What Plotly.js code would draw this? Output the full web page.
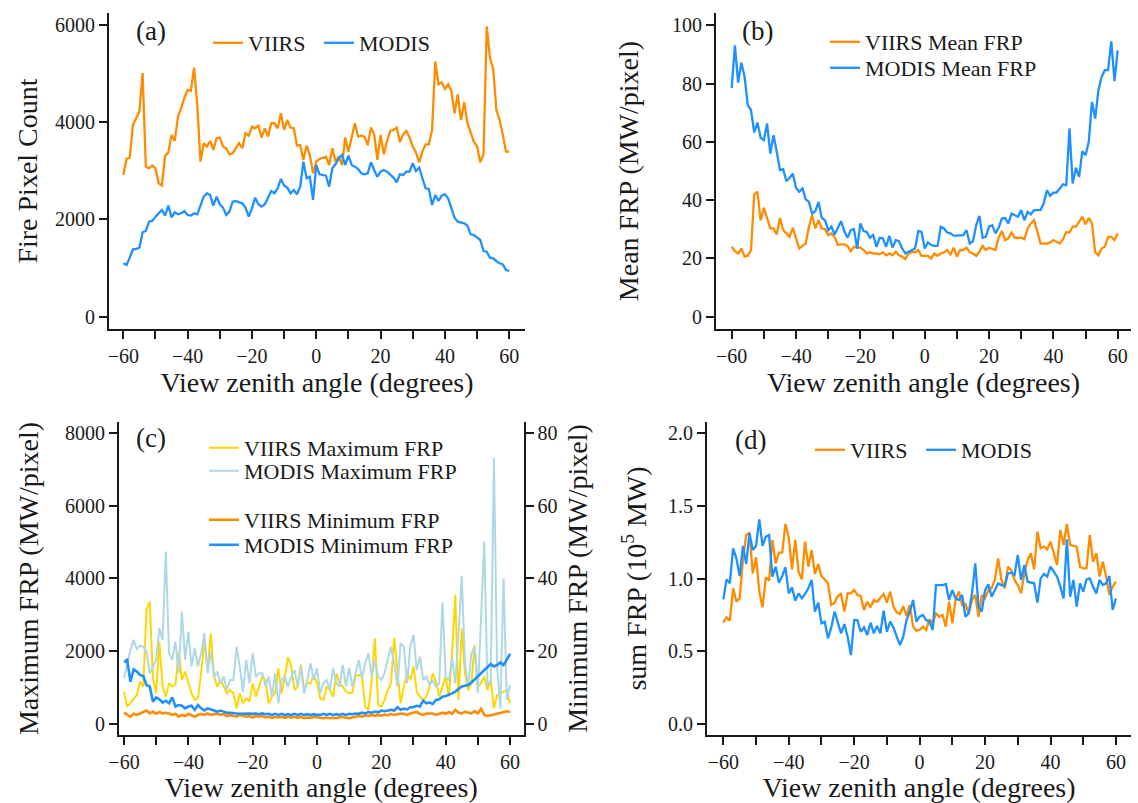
<!DOCTYPE html>
<html><head><meta charset="utf-8">
<script src="https://cdn.plot.ly/plotly-3.0.1.min.js"></script>
<style>html,body{margin:0;padding:0;background:#fff;} #chart{width:1138px;height:803px;}</style>
</head><body><div id="chart"></div>
<script>
const angles = [-60,-59,-58,-57,-56,-55,-54,-53,-52,-51,-50,-49,-48,-47,-46,-45,-44,-43,-42,-41,-40,-39,-38,-37,-36,-35,-34,-33,-32,-31,-30,-29,-28,-27,-26,-25,-24,-23,-22,-21,-20,-19,-18,-17,-16,-15,-14,-13,-12,-11,-10,-9,-8,-7,-6,-5,-4,-3,-2,-1,0,1,2,3,4,5,6,7,8,9,10,11,12,13,14,15,16,17,18,19,20,21,22,23,24,25,26,27,28,29,30,31,32,33,34,35,36,37,38,39,40,41,42,43,44,45,46,47,48,49,50,51,52,53,54,55,56,57,58,59,60];

// (a) fire pixel count
const viirsCount = [2915,3245,3270,3945,4080,4220,5010,3090,3050,3110,3050,2745,2700,3310,3380,3740,3615,4115,4290,4505,4665,4645,5125,4355,3190,3570,3500,3615,3430,3670,3685,3500,3465,3340,3360,3465,3570,3465,3775,3725,3910,3875,3930,3685,3875,3705,3980,3980,3875,4185,3840,4045,3890,3875,3520,
3530,3225,3520,3325,2950,3190,3245,3260,3290,3120,3465,3190,3290,3120,3685,3395,3670,3980,3705,3725,3705,3530,3890,3750,3225,3740,3340,3615,3820,3840,3890,3590,3750,3820,3685,3500,3380,3175,3395,3545,3545,3840,5250,4780,4820,4685,4780,4645,4185,4575,4045,4410,3980,3805,3600,3500,3175,3340,5970,5330,5100,4255,4045,3740,3395,3395];
const modisCount = [1098,1063,1214,1386,1393,1420,1736,1763,1955,1969,2058,2127,2195,2079,2284,2044,2147,2106,2127,2175,2092,2079,2127,2106,2298,2470,2538,2504,2284,2470,2312,2243,2092,2161,2367,2380,2353,2332,2243,2058,2230,2449,2312,2264,2312,2449,2586,2538,2641,2833,2696,2655,2538,2607,2518,
2675,3190,2847,2881,2401,3121,2929,2916,2902,2675,3053,3135,3259,3327,3121,3313,3121,3087,3039,2950,2929,2950,3176,3018,2881,2984,3018,2984,2929,2861,2765,2929,2916,2984,2984,3156,2998,3066,2847,2641,2627,2298,2504,2380,2490,2518,2435,2230,2037,1955,1941,1921,1873,1694,1681,1626,1578,1351,1338,1214,1200,1146,1098,1077,960,940];

// (b) mean FRP
const viirsMean = [24.0,22.5,21.7,23.4,20.6,20.9,22.9,41.9,42.9,33.1,37.4,33.7,30.3,30.3,28.2,33.9,29.7,28.6,27.4,30.5,26.6,23.4,24.3,25.1,30.9,34.9,30.3,33.1,30.3,30.1,28.0,28.6,27.4,24.6,24.8,24.8,24.3,22.5,24.0,23.7,23.7,22.9,21.7,22.1,21.7,21.7,21.4,22.1,21.1,21.7,21.1,22.3,21.1,
20.6,19.8,21.7,22.3,22.1,22.9,20.9,20.9,20.9,20.0,21.7,20.9,21.7,22.1,22.9,21.4,23.7,20.6,22.9,22.9,23.7,22.1,21.7,20.9,22.3,24.3,22.9,23.7,23.4,22.9,27.1,29.4,26.3,26.9,28.9,27.1,27.1,27.1,26.6,30.3,32.0,33.1,29.4,25.1,25.1,25.1,25.5,26.3,25.7,25.1,26.6,29.1,28.9,30.9,30.9,32.6,34.3,31.7,33.9,32.0,22.1,21.1,23.4,24.0,27.4,27.4,26.3,28.6];
const modisMean = [78.5,93.1,80.3,87.2,82.3,72.6,70.9,63.2,66.6,61.4,60.6,66.3,56.0,62.3,56.6,50.3,50.6,46.5,47.7,49.1,44.2,42.9,44.0,40.3,39.4,35.4,36.2,39.4,33.9,33.1,29.7,30.9,28.2,30.3,32.8,29.4,27.1,29.7,30.1,23.4,32.0,29.4,29.1,27.1,28.0,24.0,27.1,26.9,24.0,27.8,23.7,26.3,25.9,
23.4,21.7,22.3,22.9,23.4,29.4,29.1,23.4,25.5,24.6,24.3,24.3,30.9,30.3,28.9,28.6,27.8,27.8,27.8,28.0,29.7,25.1,25.9,31.4,34.6,27.1,27.4,30.9,31.4,28.6,30.5,33.7,33.9,32.0,35.4,34.9,34.3,36.6,33.1,36.0,35.1,36.6,36.6,36.6,38.9,43.4,41.5,42.6,42.6,44.0,45.4,45.1,64.6,45.7,51.1,48.0,56.8,55.4,60.0,73.7,68.0,77.7,82.3,84.6,84.6,94.5,80.8,91.4];

// (c) maximum FRP (left axis) and minimum FRP (right axis)
const viirsMax = [890,477,587,706,798,1165,1027,3136,3365,1256,844,2265,1027,752,1119,1027,1073,1990,1210,1440,1119,844,660,706,1440,2265,1486,2494,1302,1027,1210,1027,844,935,844,431,844,569,706,614,1119,752,1027,1302,1210,569,752,844,1531,844,1302,1834,1577,935,1027,1623,935,1119,1119,1348,
1119,706,660,1027,935,752,1394,1119,1027,890,844,862,1302,1348,1302,477,385,1210,2357,523,477,660,935,1119,2357,1486,569,1027,1394,1210,1577,890,752,660,752,1027,1394,1165,752,1027,1302,752,1944,3549,660,2632,1394,935,1119,2173,1027,1119,1302,935,1210,431,798,844,890,935,569];
const modisMax = [1256,1669,2036,2311,2054,2146,2127,1990,1394,1577,1760,2632,2311,4741,1944,1760,2265,1394,3090,1760,2540,1577,2082,1577,1944,2494,1394,1990,1302,1440,1119,1302,935,1210,1210,2127,1577,890,1760,1119,1944,1302,1394,1394,1027,1302,752,1394,569,1210,1302,1027,1302,1486,1027,1577,844,1210,1669,1210,
1531,844,1119,1210,935,1531,1119,1027,1623,1027,1531,1027,1394,1760,1256,1669,1944,1302,1760,1302,1210,1394,1760,2127,1669,1027,2219,2127,1119,2127,2448,1486,1852,1210,1302,1073,1210,1027,1119,3338,1302,1210,1807,1119,2494,4071,1669,1027,1944,2127,844,2769,5016,1027,1210,7308,1577,431,4007,660,1073];
const viirsMin = [3.1,2.5,2.0,2.8,2.5,2.9,3.4,3.7,2.9,3.4,2.8,3.3,2.9,3.1,2.9,2.5,2.8,2.0,2.5,2.2,2.8,2.5,2.0,2.5,2.8,2.5,2.9,2.5,2.8,2.9,2.5,2.8,2.2,2.5,2.2,2.0,2.5,2.2,2.0,2.2,1.8,2.2,2.0,2.2,1.8,2.0,1.7,2.0,1.8,2.0,1.7,2.0,1.8,2.0,1.7,2.0,1.6,1.8,1.7,2.0,1.8,
1.7,1.6,1.8,1.6,1.7,1.6,1.8,2.0,1.7,1.6,1.8,2.0,2.2,2.0,2.4,2.2,2.5,2.2,2.5,2.3,2.6,2.4,2.8,2.5,2.7,2.9,2.8,2.5,2.9,3.1,3.3,2.8,2.5,2.9,2.8,2.9,2.5,2.9,3.1,2.8,3.3,2.8,3.9,3.1,2.9,3.4,3.1,2.9,3.5,2.9,4.2,2.5,2.2,2.5,2.6,2.8,3.1,3.4,3.5,3.3];
const modisMin = [17.1,17.6,11.6,15.0,14.4,13.5,13.2,10.7,10.3,6.1,7.3,6.8,5.9,6.4,5.7,7.3,4.8,5.2,5.0,4.3,4.8,5.0,3.9,5.2,4.3,3.7,4.3,3.9,3.7,3.4,3.7,3.4,3.1,3.1,2.9,2.9,2.8,2.9,2.8,2.9,2.8,2.9,2.7,2.9,2.7,2.8,2.5,2.8,2.5,2.8,2.5,2.7,2.5,2.8,2.5,2.8,2.5,2.7,2.5,2.7,2.5,
2.5,2.8,2.5,2.8,2.5,2.7,2.5,2.8,2.5,2.8,2.7,2.9,2.8,3.1,2.9,3.3,3.1,3.4,3.2,3.7,3.5,3.7,3.9,3.7,4.6,3.9,4.2,4.0,4.6,4.6,5.0,4.8,6.4,5.7,5.9,5.5,6.6,6.8,7.5,7.7,8.0,8.4,8.9,9.5,10.3,10.5,10.7,11.4,12.3,13.0,13.9,14.7,15.6,16.5,15.8,16.2,16.9,16.2,17.6,19.3];

// (d) sum FRP (10^5 MW)
const viirsSum = [0.697,0.734,0.711,0.933,0.841,0.864,1.127,1.298,1.314,1.035,1.145,0.910,0.802,1.008,0.985,1.264,1.104,1.177,1.177,1.374,1.282,1.063,1.264,1.047,0.994,1.253,1.081,1.195,1.031,1.099,1.017,0.990,0.967,0.818,0.834,0.880,0.894,0.773,0.898,0.898,0.921,0.887,0.880,0.784,0.841,0.802,0.853,0.841,0.864,0.894,0.834,0.910,0.807,0.766,0.757,0.811,0.743,0.818,0.670,0.642,
0.647,0.670,0.647,0.720,0.693,0.761,0.738,0.750,0.670,0.841,0.693,0.853,0.910,0.818,0.825,0.761,0.853,0.887,0.738,0.887,0.864,0.921,0.933,0.990,1.138,0.990,0.933,1.081,1.058,0.990,0.955,0.898,1.035,1.127,1.173,1.063,1.321,1.207,1.218,1.200,1.253,1.177,1.093,1.333,1.230,1.374,1.230,1.223,1.218,1.081,1.070,1.070,1.298,1.115,1.173,1.013,1.115,1.013,0.887,0.944,0.978];
const modisSum = [0.857,0.994,0.967,1.207,1.138,1.017,1.223,1.099,1.310,1.195,1.223,1.406,1.223,1.287,1.298,1.013,1.081,0.971,1.017,1.077,0.898,0.939,0.848,0.898,0.864,0.894,0.933,0.990,0.773,0.834,0.693,0.704,0.590,0.665,0.773,0.693,0.624,0.688,0.601,0.475,0.715,0.715,0.635,0.665,0.613,0.697,0.624,0.674,0.624,0.779,0.635,0.704,0.665,0.601,0.544,
0.601,0.715,0.773,0.853,0.704,0.738,0.750,0.715,0.704,0.647,0.955,0.955,0.955,0.962,0.853,0.921,0.864,0.853,0.887,0.738,0.761,0.898,1.104,0.807,0.773,0.921,0.960,0.875,0.921,0.967,0.955,0.949,1.035,1.040,1.024,1.161,0.990,1.093,0.978,0.971,0.967,0.834,1.001,1.031,1.013,1.081,1.047,1.013,0.944,0.864,1.269,0.875,0.990,0.807,0.967,0.910,0.994,1.001,0.944,0.898,0.990,0.955,0.967,1.017,0.784,0.864];

// tick labels
const xTickVals = [-60,-50,-40,-30,-20,-10,0,10,20,30,40,50,60];
const xTickText = ['\u221260','','\u221240','','\u221220','','0','','20','','40','','60'];
const countTicks = [0,2000,4000,6000];
const meanTicks = [0,20,40,60,80,100];
const maxTicks = [0,2000,4000,6000,8000];
const minTicks = [0,20,40,60,80];
const sumTicks = [0,0.5,1.0,1.5,2.0];
const sumTickText = ['0.0','0.5','1.0','1.5','2.0'];

const FONT = 'Liberation Serif, Times New Roman, serif';
const INK = '#1a1a1a';
const ORANGE = '#FF8C00', BLUE = '#1E90FF', GOLD = '#FFD700', LIGHTBLUE = '#ADD8E6';
const W = 1138, H = 803;
const px = v => v / W;
const py = v => 1 - v / H;
const TITLE_SIZE = 28;

const base = {
  showgrid: false, zeroline: false, showline: true, linewidth: 2, linecolor: INK,
  tickwidth: 1.5, tickcolor: INK, tickfont: {family: FONT, size: 20, color: INK}, fixedrange: true
};
function xMain(dom, range, anchor) {
  return Object.assign({}, base, {
    domain: dom, range: range, anchor: anchor, tickmode: 'array', tickvals: xTickVals, ticktext: xTickText,
    ticks: 'outside', ticklen: 8,
    title: {text: 'View zenith angle (degrees)', font: {family: FONT, size: TITLE_SIZE, color: INK}, standoff: 5}
  });
}
function xTop(over, range, anchor) {
  return Object.assign({}, base, {
    overlaying: over, side: 'top', anchor: anchor, range: range, tickmode: 'array', tickvals: xTickVals,
    ticks: 'inside', ticklen: 7, showticklabels: false
  });
}
function yMain(dom, range, anchor, vals, text, title, standoff) {
  return Object.assign({}, base, {
    domain: dom, range: range, anchor: anchor, tickmode: 'array', tickvals: vals, ticktext: text || vals.map(String),
    ticks: 'outside', ticklen: 8,
    title: {text: title, font: {family: FONT, size: TITLE_SIZE, color: INK}, standoff: standoff}
  });
}
function yRight(over, range, anchor, vals) {
  return Object.assign({}, base, {
    overlaying: over, side: 'right', anchor: anchor, range: range, tickmode: 'array', tickvals: vals,
    ticks: 'inside', ticklen: 7, showticklabels: false
  });
}

const dA = {x: [px(109), px(525)], y: [py(329), py(13)]};
const dB = {x: [px(716), px(1131)], y: [py(329), py(13)]};
const dC = {x: [px(119), px(523.5)], y: [py(735), py(422)]};
const dD = {x: [px(707), px(1131)], y: [py(735), py(422)]};

const rA = {x: [-64.45, 64.9], y: [-253, 6247]};
const rB = {x: [-64.88, 64.13], y: [-4.2, 104.2]};
const rC = {x: [-61.55, 64.2], y: [-302, 8297], y2: [-3.02, 82.97]};
const rD = {x: [-64.98, 64.6], y: [-0.073, 2.073]};

function line(x, y, name, color, xa, ya, legend, width) {
  return {type: 'scatter', mode: 'lines', x: x, y: y, name: name, xaxis: xa, yaxis: ya, legend: legend,
          line: {color: color, width: width || 2.3}, hoverinfo: 'x+y+name'};
}

const traces = [
  line(angles, viirsCount, 'VIIRS', ORANGE, 'x', 'y', 'legend'),
  line(angles, modisCount, 'MODIS', BLUE, 'x', 'y', 'legend'),
  line(angles, viirsMean, 'VIIRS Mean FRP', ORANGE, 'x2', 'y2', 'legend2'),
  line(angles, modisMean, 'MODIS Mean FRP', BLUE, 'x2', 'y2', 'legend3'),
  line(angles, viirsMax, 'VIIRS Maximum FRP', GOLD, 'x3', 'y3', 'legend4', 2),
  line(angles, modisMax, 'MODIS Maximum FRP', LIGHTBLUE, 'x3', 'y3', 'legend5', 2),
  line(angles, viirsMin, 'VIIRS Minimum FRP', ORANGE, 'x3', 'y9', 'legend6', 2.6),
  line(angles, modisMin, 'MODIS Minimum FRP', BLUE, 'x3', 'y9', 'legend7', 2.6),
  line(angles, viirsSum, 'VIIRS', ORANGE, 'x4', 'y4', 'legend8'),
  line(angles, modisSum, 'MODIS', BLUE, 'x4', 'y4', 'legend8')
];

const legFont = {family: FONT, size: 22, color: INK};
// lineX: left end of the legend line sample, rowY: centre of the legend row (pixels)
function leg(lineX, rowY, horiz, ew) {
  const o = {x: px(lineX - 5), y: py(rowY - 21), xanchor: 'left', yanchor: 'top', bgcolor: 'rgba(0,0,0,0)', borderwidth: 0,
             font: legFont, orientation: horiz ? 'h' : 'v', tracegroupgap: 0, itemclick: false, itemdoubleclick: false};
  if (ew) { o.entrywidth = ew; o.entrywidthmode = 'pixels'; }
  return o;
}

const labFont = {family: FONT, size: 27, color: INK};
function lab(text, x, y) {
  return {text: text, xref: 'paper', yref: 'paper', x: px(x), y: py(y), xanchor: 'left', yanchor: 'middle',
          showarrow: false, font: labFont};
}

const layout = {
  width: W, height: H, margin: {l: 0, r: 0, t: 0, b: 0}, paper_bgcolor: '#fff', plot_bgcolor: '#fff',
  showlegend: true, hovermode: false,
  xaxis: xMain(dA.x, rA.x, 'y'),
  yaxis: yMain(dA.y, rA.y, 'x', countTicks, null, 'Fire Pixel Count', 9),
  xaxis5: xTop('x', rA.x, 'y'),
  yaxis5: yRight('y', rA.y, 'x', countTicks),
  xaxis2: xMain(dB.x, rB.x, 'y2'),
  yaxis2: yMain(dB.y, rB.y, 'x2', meanTicks, null, 'Mean FRP (MW/pixel)', 25),
  xaxis6: xTop('x2', rB.x, 'y2'),
  yaxis6: yRight('y2', rB.y, 'x2', meanTicks),
  xaxis3: xMain(dC.x, rC.x, 'y3'),
  yaxis3: yMain(dC.y, rC.y, 'x3', maxTicks, null, 'Maximum FRP (MW/pixel)', 18),
  xaxis7: xTop('x3', rC.x, 'y3'),
  yaxis9: Object.assign({}, base, {
    overlaying: 'y3', side: 'right', anchor: 'x3', range: rC.y2, tickmode: 'array', tickvals: minTicks,
    ticktext: minTicks.map(String), ticks: 'outside', ticklen: 8,
    title: {text: 'Minimum FRP (MW/pixel)', font: {family: FONT, size: TITLE_SIZE, color: INK}, standoff: 11}
  }),
  xaxis4: xMain(dD.x, rD.x, 'y4'),
  yaxis4: yMain(dD.y, rD.y, 'x4', sumTicks, sumTickText, 'sum FRP (10<sup>5</sup> MW)', 13),
  xaxis8: xTop('x4', rD.x, 'y4'),
  yaxis8: yRight('y4', rD.y, 'x4', sumTicks),
  legend: leg(213, 43, true, 66),
  legend2: leg(830, 42, false),
  legend3: leg(830, 68, false),
  legend4: leg(209, 448, false),
  legend5: leg(209, 471, false),
  legend6: leg(209, 520, false),
  legend7: leg(209, 545, false),
  legend8: leg(815, 450, true, 66),
  annotations: [
    lab('(a)', 134, 31),
    lab('(b)', 740, 31),
    lab('(c)', 134, 438),
    lab('(d)', 733, 440)
  ]
};

Plotly.newPlot('chart', traces, layout, {displayModeBar: false, responsive: false});
</script>
</body></html>
